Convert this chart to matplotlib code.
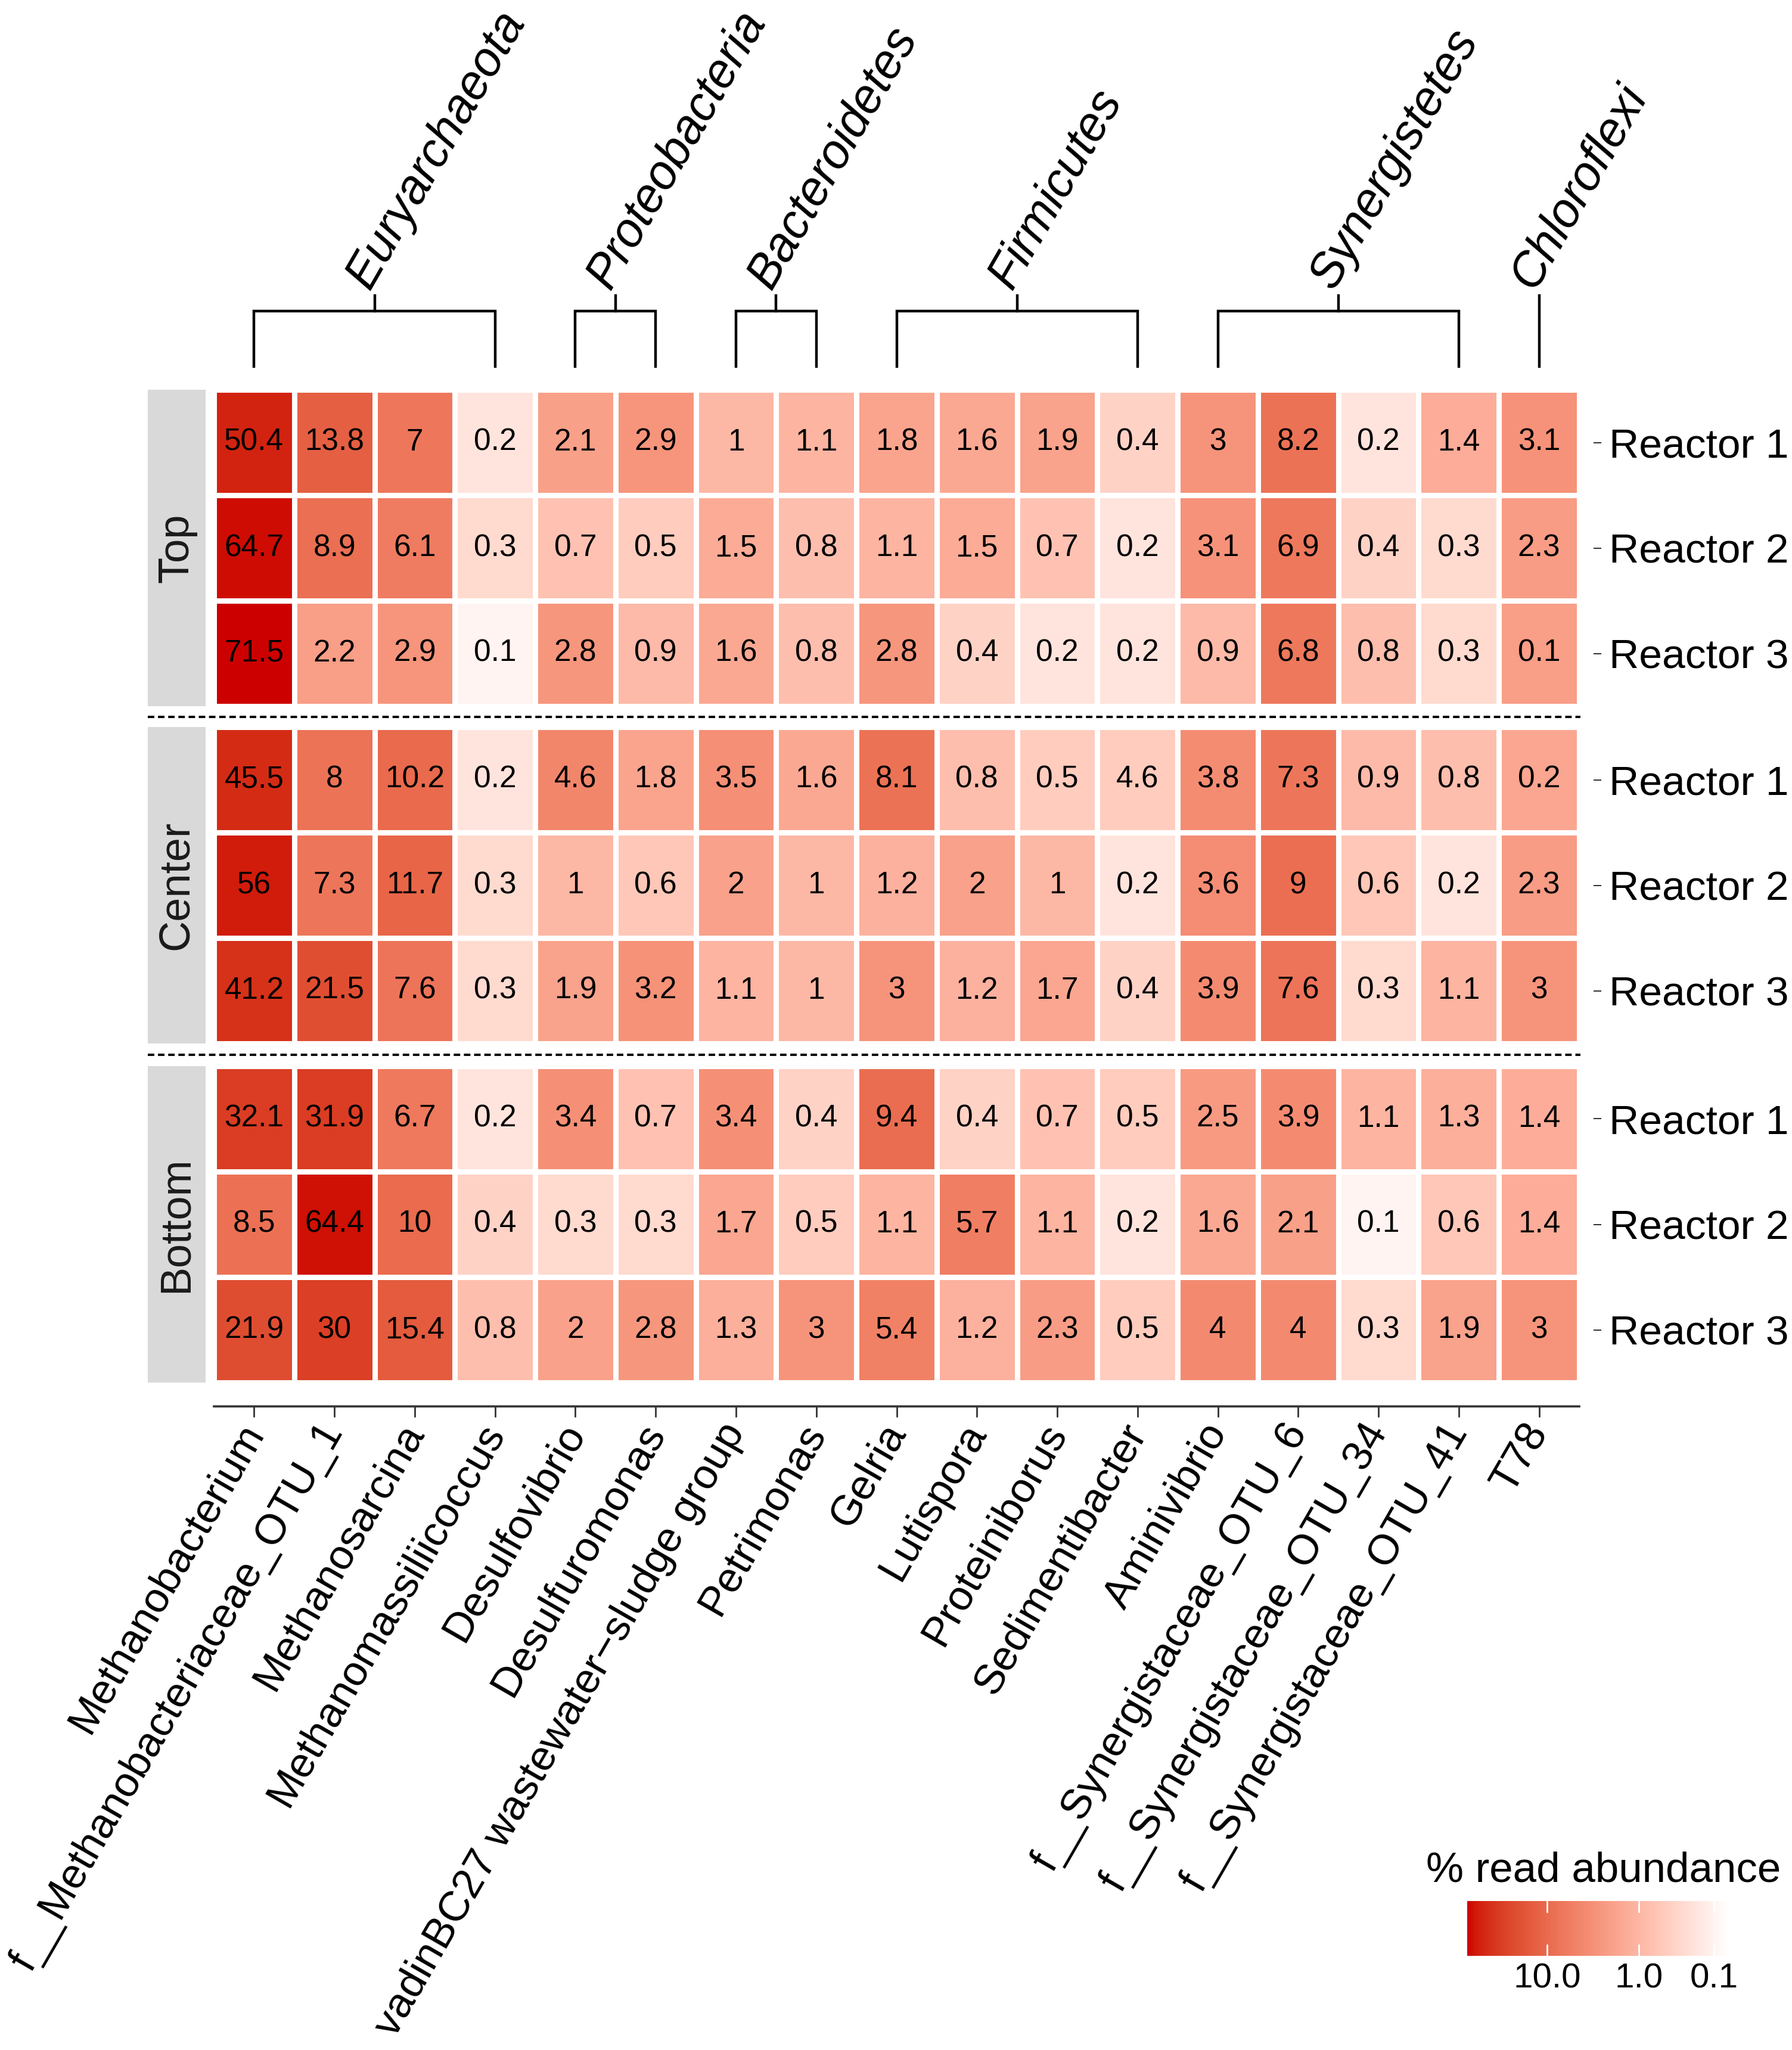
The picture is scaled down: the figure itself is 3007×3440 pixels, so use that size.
import numpy as np
import matplotlib
matplotlib.use("Agg")
import matplotlib.pyplot as plt
from matplotlib.colors import ListedColormap, FuncNorm
from matplotlib.lines import Line2D

plt.rcParams['font.family'] = ['Liberation Sans', 'DejaVu Sans']

# ---- data ----
genera = ["Methanobacterium", "f__Methanobacteriaceae_OTU_1", "Methanosarcina",
          "Methanomassiliicoccus", "Desulfovibrio", "Desulfuromonas",
          "vadinBC27 wastewater\u2212sludge group", "Petrimonas", "Gelria", "Lutispora",
          "Proteiniborus", "Sedimentibacter", "Aminivibrio", "f__Synergistaceae_OTU_6",
          "f__Synergistaceae_OTU_34", "f__Synergistaceae_OTU_41", "T78"]
phyla = ["Euryarchaeota", "Proteobacteria", "Bacteroidetes", "Firmicutes",
         "Synergistetes", "Chloroflexi"]
phylum_ncol = [4, 2, 2, 4, 4, 1]
positions = ["Top", "Center", "Bottom"]
reactors = ["Reactor 1", "Reactor 2", "Reactor 3"]

top = [[50.4, 13.8, 7, 0.2, 2.1, 2.9, 1, 1.1, 1.8, 1.6, 1.9, 0.4, 3, 8.2, 0.2, 1.4, 3.1],
       [64.7, 8.9, 6.1, 0.3, 0.7, 0.5, 1.5, 0.8, 1.1, 1.5, 0.7, 0.2, 3.1, 6.9, 0.4, 0.3, 2.3],
       [71.5, 2.2, 2.9, 0.1, 2.8, 0.9, 1.6, 0.8, 2.8, 0.4, 0.2, 0.2, 0.9, 6.8, 0.8, 0.3, 0.1]]
center = [[45.5, 8, 10.2, 0.2, 4.6, 1.8, 3.5, 1.6, 8.1, 0.8, 0.5, 4.6, 3.8, 7.3, 0.9, 0.8, 0.2],
          [56, 7.3, 11.7, 0.3, 1, 0.6, 2, 1, 1.2, 2, 1, 0.2, 3.6, 9, 0.6, 0.2, 2.3],
          [41.2, 21.5, 7.6, 0.3, 1.9, 3.2, 1.1, 1, 3, 1.2, 1.7, 0.4, 3.9, 7.6, 0.3, 1.1, 3]]
bottom = [[32.1, 31.9, 6.7, 0.2, 3.4, 0.7, 3.4, 0.4, 9.4, 0.4, 0.7, 0.5, 2.5, 3.9, 1.1, 1.3, 1.4],
          [8.5, 64.4, 10, 0.4, 0.3, 0.3, 1.7, 0.5, 1.1, 5.7, 1.1, 0.2, 1.6, 2.1, 0.1, 0.6, 1.4],
          [21.9, 30, 15.4, 0.8, 2, 2.8, 1.3, 3, 5.4, 1.2, 2.3, 0.5, 4, 4, 0.3, 1.9, 3]]
panels = [top, center, bottom]

# in the source figure a few tiles are coloured differently from their printed label
fill_fix = {(0, 2, 16): 2.2, (1, 0, 11): 0.5, (1, 0, 16): 1.7}

breaks = [10, 1, 0.1]
break_labels = ["10.0", "1.0", "0.1"]
vmin, vmax = 0.05, 71.5


# ---- colour scale: white -> red3 in CIELAB, on log10(x + c) ----
def srgb_to_lab(rgb):
    c = np.asarray(rgb, float)
    lin = np.where(c <= 0.04045, c / 12.92, ((c + 0.055) / 1.055) ** 2.4)
    M = np.array([[0.4124, 0.3576, 0.1805], [0.2126, 0.7152, 0.0722], [0.0193, 0.1192, 0.9505]])
    xyz = M @ lin / np.array([0.95047, 1.0, 1.08883])
    f = np.where(xyz > 0.008856, np.cbrt(xyz), 7.787 * xyz + 16 / 116)
    return np.array([116 * f[1] - 16, 500 * (f[0] - f[1]), 200 * (f[1] - f[2])])


def lab_to_srgb(lab):
    L, a, b = lab
    fy_ = (L + 16) / 116
    fx_ = fy_ + a / 500
    fz_ = fy_ - b / 200
    f = np.array([fx_, fy_, fz_])
    xyz = np.where(f ** 3 > 0.008856, f ** 3, (f - 16 / 116) / 7.787) * np.array([0.95047, 1.0, 1.08883])
    Minv = np.array([[3.2406, -1.5372, -0.4986], [-0.9689, 1.8758, 0.0415], [0.0557, -0.2040, 1.0570]])
    lin = Minv @ xyz
    c = np.where(lin <= 0.0031308, 12.92 * lin, 1.055 * np.clip(lin, 0, None) ** (1 / 2.4) - 0.055)
    return np.clip(c, 0, 1)


lab_lo = srgb_to_lab([1, 1, 1])
lab_hi = srgb_to_lab([205 / 255, 0, 0])
cmap = ListedColormap([lab_to_srgb(lab_lo + f * (lab_hi - lab_lo)) for f in np.linspace(0, 1, 256)])


def fwd(x):
    return np.log10(np.asarray(x, float) + 0.07)


def inv(y):
    return 10 ** np.asarray(y, float) - 0.07


norm = FuncNorm((fwd, inv), vmin=vmin, vmax=vmax)

# ---- layout (pixels) ----
W, H, DPI = 3007, 3440, 200
PT = 72 / DPI
fig = plt.figure(figsize=(W / DPI, H / DPI), dpi=DPI)


def box(x0, y0, x1, y1):
    return [x0 / W, 1 - y1 / H, (x1 - x0) / W, (y1 - y0) / H]


hm_l, hm_r = 359, 2650
panel_tops = [654, 1220, 1789]
panel_h = 531
ncol = len(genera)

for p, (name, rows) in enumerate(zip(positions, panels)):
    y0 = panel_tops[p]
    ax = fig.add_axes(box(hm_l, y0, hm_r, y0 + panel_h))
    vals = np.array(rows, float)
    fill = vals.copy()
    for (pp, r, c), v in fill_fix.items():
        if pp == p:
            fill[r, c] = v
    ax.pcolormesh(np.arange(ncol + 1), np.arange(4), fill, cmap=cmap, norm=norm,
                  edgecolors='white', linewidth=2.6)
    for r in range(3):
        for c in range(ncol):
            ax.text(c + 0.5, r + 0.5, f"{vals[r, c]:g}", ha='center', va='center',
                    fontsize=18.5, color='black')
    ax.set_xlim(0, ncol)
    ax.set_ylim(3, 0)
    for s in ['top', 'left', 'right']:
        ax.spines[s].set_visible(False)
    ax.spines['right'].set_position(('outward', 24 * PT))
    ax.yaxis.tick_right()
    ax.set_yticks([0.5, 1.5, 2.5])
    ax.set_yticklabels(reactors)
    ax.tick_params(axis='y', length=13 * PT, width=2 * PT, color='#333333',
                   pad=13 * PT, labelsize=25)
    if p == 2:
        ax.spines['bottom'].set_position(('outward', 40 * PT))
        ax.spines['bottom'].set_color('#333333')
        ax.spines['bottom'].set_linewidth(1.3)
        ax.set_xticks(np.arange(ncol) + 0.5)
        ax.set_xticklabels(genera, fontsize=25.5)
        ax.tick_params(axis='x', length=18 * PT, width=1.0, color='#333333', pad=16 * PT)
        plt.setp(ax.get_xticklabels(), rotation=60, ha='right', va='center',
                 rotation_mode='anchor')
    else:
        ax.spines['bottom'].set_visible(False)
        ax.set_xticks([])

    # facet strip on the left
    sx = fig.add_axes(box(248, y0, 345, y0 + panel_h))
    sx.set_facecolor('#D9D9D9')
    sx.set_xticks([])
    sx.set_yticks([])
    for s in sx.spines.values():
        s.set_visible(False)
    sx.text(0.5, 0.5, name, rotation=90, ha='center', va='center', fontsize=26,
            color='#1A1A1A', transform=sx.transAxes)

# dashed separators between the facets
for ysep in [1203, 1770]:
    fig.add_artist(Line2D([248 / W, 2652 / W], [1 - ysep / H] * 2, color='black',
                          lw=1.4, linestyle=(0, (2.8, 1.6))))

# ---- phylum brackets ----
axb = fig.add_axes(box(hm_l, 0, hm_r, 650))
axb.set_xlim(0, ncol)
axb.set_ylim(650, 0)
axb.axis('off')
leg_y, bar_y, stem_y = 615, 522, 496
start = 0
for ph, n in zip(phyla, phylum_ncol):
    xa, xb = start + 0.5, start + n - 0.5
    xm = (xa + xb) / 2
    if n > 1:
        axb.plot([xa, xa, xb, xb], [leg_y, bar_y, bar_y, leg_y], color='black',
                 lw=1.6, solid_joinstyle='miter', clip_on=False)
        axb.plot([xm, xm], [bar_y, stem_y], color='black', lw=1.6, clip_on=False)
    else:
        axb.plot([xm, xm], [leg_y, stem_y], color='black', lw=1.6, clip_on=False)
    axb.text(xm - 0.2, 478, ph, rotation=60, rotation_mode='anchor', ha='left',
             va='center', fontsize=29, style='italic', clip_on=False)
    start += n

# ---- colour bar ----
axc = fig.add_axes(box(2462, 3190, 2900, 3282))
tmin, tmax = fwd(vmin), fwd(vmax)
axc.imshow(np.linspace(0, 1, 512)[None, :], cmap=cmap, vmin=0, vmax=1,
           extent=[tmin, tmax, 0, 1], aspect='auto', interpolation='bilinear')
axc.set_xlim(tmax, tmin)
axc.set_ylim(0, 1)
for s in axc.spines.values():
    s.set_visible(False)
axc.set_yticks([])
axc.set_xticks([fwd(b) for b in breaks])
axc.set_xticklabels(break_labels)
axc.tick_params(axis='x', length=0, pad=12 * PT, labelsize=21)
for b in breaks:
    axc.plot([fwd(b)] * 2, [0, 0.2], color='white', lw=1)
    axc.plot([fwd(b)] * 2, [0.8, 1], color='white', lw=1)
fig.text(2393 / W, 1 - 3158 / H, "% read abundance", fontsize=25.5, va='baseline')

fig.savefig("out.png", dpi=DPI, facecolor='white')
